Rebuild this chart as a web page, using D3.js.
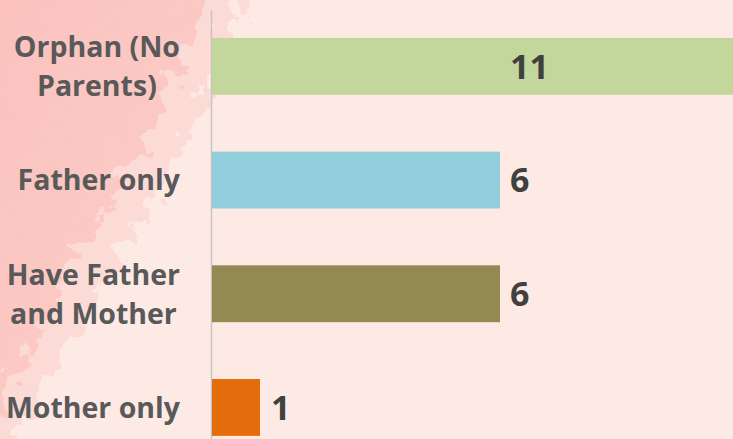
<!DOCTYPE html>
<html>
<head>
<meta charset="utf-8">
<script src="https://cdn.jsdelivr.net/npm/d3@7"></script>
<style>
  body { margin: 0; background: #fdeae5; }
  svg { display: block; }
</style>
</head>
<body>
<div id="chart"></div>
<script>
var categories = ["Orphan (No Parents)", "Father only", "Have Father and Mother", "Mother only"];
var labelLines = [["Orphan (No", "Parents)"], ["Father only"], ["Have Father", "and Mother"], ["Mother only"]];
var values = [11, 6, 6, 1];
var colors = ["#c3d69b", "#92cddc", "#938953", "#e46c0a"];

var width = 733, height = 439;
var x0 = 212;

var svg = d3.select("#chart")
  .append("svg")
    .attr("width", width)
    .attr("height", height);

var defs = svg.append("defs");

// ragged brush edge for the pink wash on the left
var f = defs.append("filter")
    .attr("id", "rough")
    .attr("x", "-20%").attr("y", "-20%")
    .attr("width", "140%").attr("height", "140%");
f.append("feTurbulence")
    .attr("type", "fractalNoise")
    .attr("baseFrequency", "0.05")
    .attr("numOctaves", 4)
    .attr("seed", 7)
    .attr("result", "noise");
f.append("feDisplacementMap")
    .attr("in", "SourceGraphic")
    .attr("in2", "noise")
    .attr("scale", 55)
    .attr("xChannelSelector", "R")
    .attr("yChannelSelector", "G");

var grad = defs.append("linearGradient")
    .attr("id", "wash")
    .attr("x1", "0").attr("y1", "0")
    .attr("x2", "1").attr("y2", "1");
grad.append("stop").attr("offset", "0%").attr("stop-color", "#fbc0bc");
grad.append("stop").attr("offset", "100%").attr("stop-color", "#fcd0cb");

svg.append("rect")
    .attr("width", width)
    .attr("height", height)
    .attr("fill", "#fdeae5");

// soft outer wash, then the solid one
svg.append("path")
    .attr("d", "M-40,-40 L255,-40 L230,40 L195,120 L150,210 L95,300 L45,380 L10,450 L-40,450 Z")
    .attr("fill", "#fcd6d1")
    .attr("opacity", 0.7)
    .attr("filter", "url(#rough)");
svg.append("path")
    .attr("d", "M-40,-40 L215,-40 L190,40 L155,120 L110,200 L65,280 L25,360 L-5,420 L-40,450 Z")
    .attr("fill", "url(#wash)")
    .attr("filter", "url(#rough)");

var x = d3.scaleLinear()
    .domain([0, 1])
    .range([x0, x0 + 48]);

var y = d3.scaleBand()
    .domain(categories)
    .range([9.5, 464.3])
    .paddingInner(0.5)
    .paddingOuter(0.25);

// axis line
svg.append("line")
    .attr("x1", x0 - 0.5).attr("x2", x0 - 0.5)
    .attr("y1", 10).attr("y2", height)
    .attr("stroke", "#c8c4c2")
    .attr("stroke-width", 1.5);

svg.selectAll("rect.bar")
  .data(values)
  .enter().append("rect")
    .attr("class", "bar")
    .attr("x", x(0))
    .attr("y", function(d, i) { return y(categories[i]); })
    .attr("width", function(d) { return x(d) - x(0); })
    .attr("height", y.bandwidth())
    .attr("fill", function(d, i) { return colors[i]; });

// value labels
svg.selectAll("text.val")
  .data(values)
  .enter().append("text")
    .attr("class", "val")
    .attr("x", function(d) { return Math.min(x(d) + 11, 510); })
    .attr("y", function(d, i) { return y(categories[i]) + y.bandwidth() / 2; })
    .attr("dy", "0.36em")
    .attr("font-family", "'Open Sans', sans-serif")
    .attr("font-weight", "bold")
    .attr("font-size", 34)
    .attr("fill", "#404040")
    .text(function(d) { return d; });

// category labels: block right-aligned at 180, wrapped lines centred in it
var lab = svg.selectAll("text.cat")
  .data(labelLines)
  .enter().append("text")
    .attr("class", "cat")
    .attr("text-anchor", "middle")
    .attr("font-family", "'Open Sans', sans-serif")
    .attr("font-weight", "bold")
    .attr("font-size", 28.5)
    .attr("fill", "#595959");

lab.selectAll("tspan")
  .data(function(d) { return d; })
  .enter().append("tspan")
    .attr("x", 0)
    .attr("y", function(d, j, nodes) {
      var n = nodes.length;
      return (j - (n - 1) / 2) * 39;
    })
    .attr("dy", "0.36em")
    .text(function(d) { return d; });

lab.attr("transform", function(d, i) {
  var w = d3.max(d3.select(this).selectAll("tspan").nodes(), function(n) { return n.getComputedTextLength(); });
  return "translate(" + (180 - w / 2) + "," + (y(categories[i]) + y.bandwidth() / 2) + ")";
});
</script>
</body>
</html>
